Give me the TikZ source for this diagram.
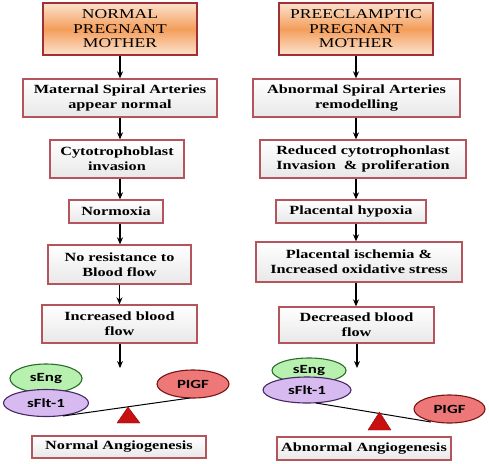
\documentclass[tikz,border=0pt]{standalone}
\usepackage{fontspec}
\setmainfont{Liberation Serif}[FakeStretch=1.3]
\newfontfamily\ellfont{Carlito}[FakeStretch=1.35]
\usepackage{tikz}
\usetikzlibrary{arrows.meta, positioning, shapes.geometric, calc}

\definecolor{boxline}{RGB}{180,84,92}
\definecolor{hdrline}{RGB}{160,48,52}
\definecolor{hdrlight}{RGB}{252,226,206}
\definecolor{hdrmid}{RGB}{244,158,92}
\definecolor{engfill}{RGB}{184,240,176}
\definecolor{engline}{RGB}{40,110,40}
\definecolor{fltfill}{RGB}{214,186,240}
\definecolor{fltline}{RGB}{70,40,100}
\definecolor{pigffill}{RGB}{238,120,120}
\definecolor{pigfline}{RGB}{120,20,20}
\definecolor{fulcred}{RGB}{200,16,16}

\begin{document}
\begin{tikzpicture}[
    x=1pt, y=-1pt,
    hdr/.style={draw=hdrline, line width=1.4pt, top color=hdrlight,
                bottom color=hdrlight, middle color=hdrmid,
                minimum width=154pt, minimum height=52pt, align=center,
                font=\fontsize{13.5}{14.5}\selectfont, inner sep=1pt},
    box/.style={draw=boxline, line width=1.3pt, top color=white,
                bottom color=gray!18, minimum height=38pt, align=center,
                font=\fontsize{12.5}{15}\selectfont\bfseries, inner sep=1pt},
    oval/.style={ellipse, draw, line width=1.1pt, inner sep=0pt,
                 font=\ellfont\fontsize{12.5}{14}\selectfont\bfseries},
    arr/.style={->, line width=1.3pt},
    >={Stealth[length=7pt, width=6pt]}
  ]
  \useasboundingbox (0,0) rectangle (489,463);

  % normal pregnancy
  \node[hdr] (hdrN) at (120, 29) {NORMAL\\PREGNANT\\MOTHER};
  \node[box, minimum width=194pt] (matN) at (120, 98) {Maternal Spiral Arteries\\appear normal};
  \node[box, minimum width=134pt] (cytoN) at (117, 159) {Cytotrophoblast\\invasion};
  \node[box, minimum width=94pt, minimum height=23pt] (normoxN) at (116, 211.5) {Normoxia};
  \node[box, minimum width=143pt, minimum height=39pt] (resistN) at (119.5, 264.5) {No resistance to\\Blood flow};
  \node[box, minimum width=155pt] (incN) at (119.5, 324) {Increased blood\\flow};
  \coordinate (endN) at (120, 368);
  \node[oval, fill=engfill, draw=engline, minimum width=72pt, minimum height=29pt] (engN) at (46, 378.5) {sEng};
  \node[oval, fill=fltfill, draw=fltline, minimum width=85pt, minimum height=27pt] (fltN) at (46, 403) {sFlt-1};
  \node[oval, fill=pigffill, draw=pigfline, minimum width=72pt, minimum height=28pt] (pigfN) at (193, 384) {PIGF};
  \coordinate (beamNa) at (63, 416);
  \coordinate (beamNb) at (190, 398);
  \node[box, minimum width=174pt, minimum height=22pt] (angioN) at (119, 447) {Normal Angiogenesis};

  \draw[arr] (hdrN) -- (hdrN |- matN.north);
  \draw[arr] (matN) -- (matN |- cytoN.north);
  \draw[arr] (cytoN.south -| matN) -- (matN |- normoxN.north);
  \draw[arr] (normoxN.south -| matN) -- (matN |- resistN.north);
  \draw[arr] (resistN) -- (resistN |- incN.north);
  \draw[arr] (incN.south -| endN) -- (endN);
  \draw[line width=1pt] (beamNa) -- (beamNb);
  \filldraw[fill=fulcred, draw=fulcred!70!black] (128, 407) -- (140, 423) -- (117, 423) -- cycle;

  % preeclamptic pregnancy
  \node[hdr] (hdrP) at (356, 29) {PREECLAMPTIC\\PREGNANT\\MOTHER};
  \node[box, minimum width=207pt] (abnP) at (356.5, 98) {Abnormal Spiral Arteries\\remodelling};
  \node[box, minimum width=206pt] (redP) at (363, 159) {Reduced cytotrophonlast\\Invasion~ \& proliferation};
  \node[box, minimum width=150pt, minimum height=23pt] (hypoxP) at (351, 211.5) {Placental hypoxia};
  \node[box, minimum width=206pt, minimum height=40pt] (ischP) at (359, 262) {Placental ischemia \&\\Increased oxidative stress};
  \node[box, minimum width=155pt, minimum height=36pt] (decP) at (356.5, 325) {Decreased blood\\flow};
  \coordinate (endP) at (357, 368);
  \node[oval, fill=engfill, draw=engline, minimum width=74pt, minimum height=25pt] (engP) at (309, 370.5) {sEng};
  \node[oval, fill=fltfill, draw=fltline, minimum width=88pt, minimum height=26pt] (fltP) at (307, 390) {sFlt-1};
  \node[oval, fill=pigffill, draw=pigfline, minimum width=71pt, minimum height=28pt] (pigfP) at (449.5, 409) {PIGF};
  \coordinate (beamPa) at (316, 403);
  \coordinate (beamPb) at (431, 422);
  \node[box, minimum width=174pt, minimum height=23pt] (angioP) at (364, 448.5) {Abnormal Angiogenesis};

  \draw[arr] (hdrP) -- (hdrP |- abnP.north);
  \draw[arr] (abnP.south -| hdrP) -- (hdrP |- redP.north);
  \draw[arr] (redP.south -| hdrP) -- (hdrP |- hypoxP.north);
  \draw[arr] (hypoxP.south -| hdrP) -- (hdrP |- ischP.north);
  \draw[arr] (ischP.south -| hdrP) -- (hdrP |- decP.north);
  \draw[arr] (decP.south -| endP) -- (endP);
  \draw[line width=1pt] (beamPa) -- (beamPb);
  \filldraw[fill=fulcred, draw=fulcred!70!black] (379.5, 412) -- (391, 430) -- (368, 430) -- cycle;
\end{tikzpicture}
\end{document}
